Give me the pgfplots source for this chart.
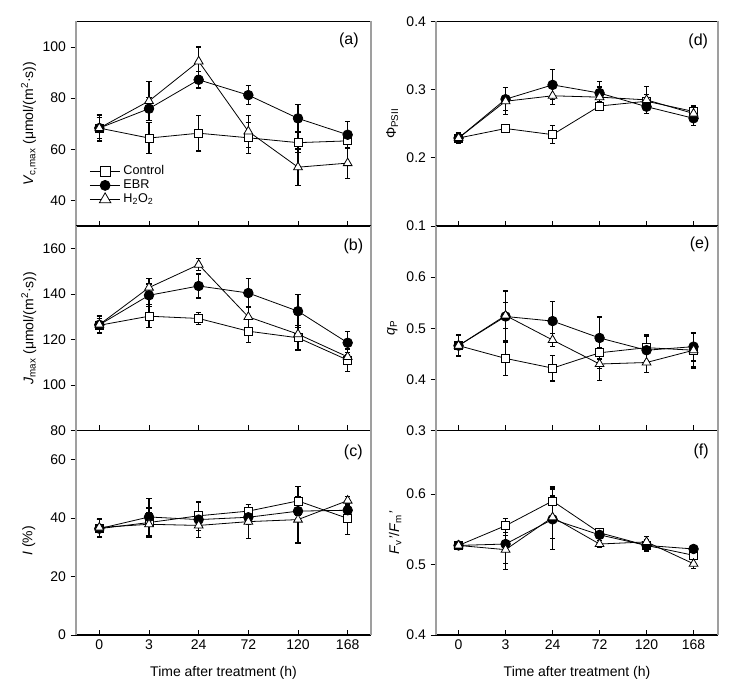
\documentclass[border=0pt]{standalone}
\usepackage{fontspec}
\setmainfont{Liberation Sans}
\usepackage{pgfplots}
\pgfplotsset{compat=1.18}
\usepackage{pgfplotstable}

\pgfplotstableread{
x  c     ce    e     ee    h     he
0  68.3  5.0   68.3  5.2   68.3  4.0
1  64.4  6.0   75.9  4.5   78.9  7.7
2  66.3  7.0   87.2  3.2   94.4  5.6
3  64.5  6.0   81.2  3.8   67.0  6.3
4  62.6  4.0   72.1  5.3   53.0  7.1
5  63.3  3.0   65.7  5.3   54.6  6.0
}\tabA
\pgfplotstableread{
x  c      ce   e      ee   h      he
0  126.3  3.0  126.5  3.5  126.6  3.8
1  130.3  5.0  139.5  5.0  142.9  4.0
2  129.3  2.8  143.6  5.3  153.0  2.6
3  123.7  5.0  140.5  6.3  130.0  4.7
4  120.8  5.4  132.5  7.3  122.4  3.0
5  111.0  4.9  118.6  5.0  112.4  2.0
}\tabB
\pgfplotstableread{
x  c     ce   e     ee   h     he
0  36.4  3.0  36.4  3.0  36.8  3.0
1  38.5  5.0  40.4  6.3  37.9  4.0
2  40.8  5.0  39.5  6.0  37.5  4.0
3  42.4  2.2  40.3  2.5  38.8  5.8
4  45.9  5.0  42.4  3.0  39.5  8.0
5  39.9  5.5  42.7  2.5  46.0  1.5
}\tabC
\pgfplotstableread{
x  c      ce     e      ee     h      he
0  0.229  0.008  0.229  0.007  0.229  0.006
1  0.243  0.003  0.286  0.017  0.283  0.020
2  0.234  0.013  0.307  0.022  0.291  0.013
3  0.276  0.006  0.295  0.017  0.289  0.015
4  0.283  0.010  0.275  0.010  0.285  0.020
5  0.268  0.008  0.258  0.011  0.265  0.008
}\tabD
\pgfplotstableread{
x  c      ce     e      ee     h      he
0  0.466  0.020  0.466  0.022  0.466  0.020
1  0.441  0.034  0.523  0.050  0.525  0.025
2  0.422  0.025  0.514  0.038  0.477  0.012
3  0.452  0.030  0.481  0.041  0.430  0.032
4  0.462  0.025  0.457  0.028  0.433  0.020
5  0.457  0.033  0.464  0.028  0.457  0.035
}\tabE
\pgfplotstableread{
x  c      ce     e      ee     h      he
0  0.527  0.003  0.527  0.003  0.527  0.003
1  0.555  0.010  0.529  0.036  0.521  0.020
2  0.590  0.020  0.564  0.043  0.567  0.030
3  0.545  0.006  0.542  0.008  0.529  0.005
4  0.527  0.008  0.527  0.008  0.532  0.008
5  0.513  0.005  0.522  0.004  0.501  0.007
}\tabF

\newcommand{\fs}{\fontsize{10.5}{12}\selectfont}
\tikzset{plabel/.style={font=\fontsize{12}{14}\selectfont, anchor=center}}
\pgfplotsset{
  panel/.style={
    scale only axis, height=153.375pt,
    xtick={0,...,5}, xticklabels={},
    xtick pos=left, ytick pos=left,
    xtick align=inside, ytick align=outside,
    x tick style={black, line width=0.6pt}, y tick style={black, line width=0.6pt},
    major tick length=4pt,
    separate axis lines,
    x axis line style={black, line width=0.8pt},
    y axis line style={gray!75, line width=0.8pt},
    tick label style={font=\fs},
    label style={font=\fs},
    /pgf/number format/assume math mode=true,
    xlabel style={at={(axis description cs:0.5,-0.186)}, anchor=center},
    clip=false,
  },
  leftp/.style={panel, width=221.25pt, xmin=-0.47, xmax=5.47,
    ylabel style={at={(axis description cs:-0.16,0.5)}, anchor=center}},
  rightp/.style={panel, width=211.5pt, xmin=-0.48, xmax=5.52,
    ylabel style={at={(axis description cs:-0.155,0.5)}, anchor=center},
    yticklabel style={/pgf/number format/.cd, fixed, fixed zerofill, precision=1}},
  errs/.style={error bars/.cd, y dir=both, y explicit,
    error bar style={black, line width=0.9pt},
    error mark options={rotate=90, black, mark size=2pt, line width=0.9pt},
    /pgfplots/.cd},
  ctrl/.style={black, line width=0.6pt, mark=square*, mark size=3pt,
    mark options={fill=white, solid, line width=0.6pt}, errs},
  ebr/.style={black, line width=0.6pt, mark=*, mark size=3.6pt,
    mark options={fill=black, solid}, errs},
  hyd/.style={black, line width=0.6pt, mark=triangle*, mark size=3.8pt,
    mark options={fill=white, solid, line width=0.6pt}, errs},
}

\begin{document}
\begin{tikzpicture}
\useasboundingbox (0,0) rectangle (555pt,521.25pt);

% (a)
\begin{axis}[leftp, at={(57pt,351.75pt)}, anchor=south west,
  ymin=30, ymax=110, ytick={40,60,80,100},
  ylabel={\textit{V}\textsubscript{c,max} (μmol/(m\textsuperscript{2}·s))},
  legend style={at={(axis description cs:0.045,0.31)}, anchor=north west,
    draw=none, fill=none, font=\fontsize{9.5}{11}\selectfont, row sep=-1.5pt,
    inner sep=0pt},
  legend cell align=left,
  legend image code/.code={\draw[mark repeat=2,mark phase=2,#1] plot coordinates {(0cm,0cm) (0.4cm,0cm) (0.8cm,0cm)};},
]
\addlegendimage{black, line width=0.6pt, mark=square*, mark size=3.6pt, mark options={fill=white, solid}}
\addlegendentry{Control}
\addlegendimage{black, line width=0.6pt, mark=*, mark size=3.75pt, mark options={fill=black, solid}}
\addlegendentry{EBR}
\addlegendimage{black, line width=0.6pt, mark=triangle*, mark size=5pt, mark options={fill=white, solid}}
\addlegendentry{H\textsubscript{2}O\textsubscript{2}}
\addplot[forget plot, ctrl] table[x=x, y=c, y error=ce] {\tabA};
\addplot[forget plot, ebr] table[x=x, y=e, y error=ee] {\tabA};
\addplot[forget plot, hyd] table[x=x, y=h, y error=he] {\tabA};
\node[plabel] at (rel axis cs:0.925,0.91) {(a)};
\end{axis}

% (b)
\begin{axis}[leftp, at={(57pt,198.375pt)}, anchor=south west,
  ymin=80, ymax=170, ytick={80,100,120,140,160},
  ylabel={\textit{J}\textsubscript{max} (μmol/(m\textsuperscript{2}·s))},
]
\addplot[ctrl] table[x=x, y=c, y error=ce] {\tabB};
\addplot[ebr] table[x=x, y=e, y error=ee] {\tabB};
\addplot[hyd] table[x=x, y=h, y error=he] {\tabB};
\node[plabel] at (rel axis cs:0.94,0.9) {(b)};
\end{axis}

% (c)
\begin{axis}[leftp, at={(57pt,45pt)}, anchor=south west,
  ymin=0, ymax=70, ytick={0,20,40,60},
  xticklabels={0,3,24,72,120,168},
  ylabel={\textit{I} (\%)},
  ylabel style={at={(axis description cs:-0.16,0.46)}},
  xlabel={Time after treatment (h)},
]
\addplot[ctrl] table[x=x, y=c, y error=ce] {\tabC};
\addplot[ebr] table[x=x, y=e, y error=ee] {\tabC};
\addplot[hyd] table[x=x, y=h, y error=he] {\tabC};
\node[plabel] at (rel axis cs:0.94,0.895) {(c)};
\end{axis}

% (d)
\begin{axis}[rightp, at={(327pt,351.75pt)}, anchor=south west,
  ymin=0.1, ymax=0.4, ytick={0.1,0.2,0.3,0.4},
  ylabel={Φ\textsubscript{PSII}},
]
\addplot[ctrl] table[x=x, y=c, y error=ce] {\tabD};
\addplot[ebr] table[x=x, y=e, y error=ee] {\tabD};
\addplot[hyd] table[x=x, y=h, y error=he] {\tabD};
\node[plabel] at (rel axis cs:0.93,0.905) {(d)};
\end{axis}

% (e)
\begin{axis}[rightp, at={(327pt,198.375pt)}, anchor=south west,
  ymin=0.3, ymax=0.7, ytick={0.3,0.4,0.5,0.6},
  ylabel={\textit{q}\textsubscript{P}},
]
\addplot[ctrl] table[x=x, y=c, y error=ce] {\tabE};
\addplot[ebr] table[x=x, y=e, y error=ee] {\tabE};
\addplot[hyd] table[x=x, y=h, y error=he] {\tabE};
\node[plabel] at (rel axis cs:0.935,0.912) {(e)};
\end{axis}

% (f)
\begin{axis}[rightp, at={(327pt,45pt)}, anchor=south west,
  ymin=0.4, ymax=0.69, ytick={0.4,0.5,0.6},
  xticklabels={0,3,24,72,120,168},
  ylabel={\textit{F}\textsubscript{v}\textit{'}/\textit{F}\textsubscript{m}\textit{'}},
  ylabel style={at={(axis description cs:-0.145,0.5)}},
  xlabel={Time after treatment (h)},
]
\addplot[ctrl] table[x=x, y=c, y error=ce] {\tabF};
\addplot[ebr] table[x=x, y=e, y error=ee] {\tabF};
\addplot[hyd] table[x=x, y=h, y error=he] {\tabF};
\node[plabel] at (rel axis cs:0.94,0.9) {(f)};
\end{axis}
\end{tikzpicture}
\end{document}
